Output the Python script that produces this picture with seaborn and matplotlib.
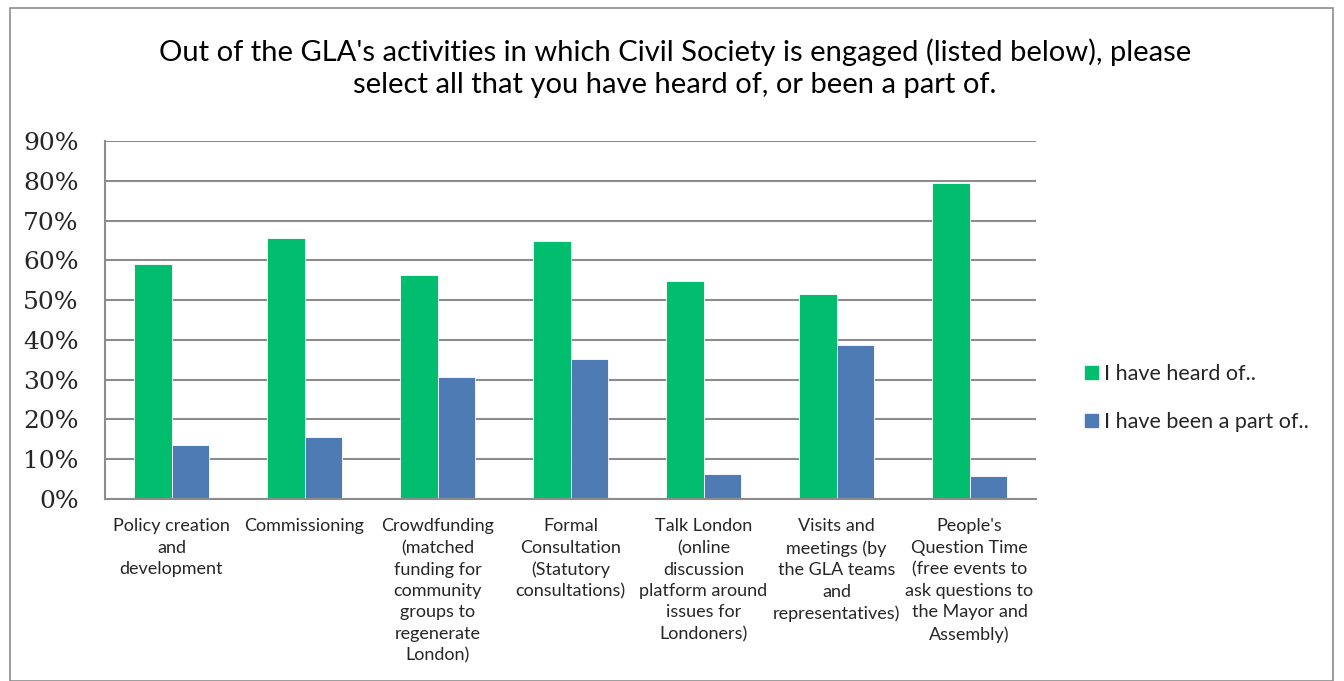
import matplotlib
matplotlib.use("Agg")
import matplotlib.pyplot as plt
import seaborn as sns
import pandas as pd
from matplotlib.patches import Rectangle
from matplotlib.ticker import FuncFormatter, FixedLocator

categories = [
    "Policy creation\nand\ndevelopment",
    "Commissioning",
    "Crowdfunding\n(matched\nfunding for\ncommunity\ngroups to\nregenerate\nLondon)",
    "Formal\nConsultation\n(Statutory\nconsultations)",
    "Talk London\n(online\ndiscussion\nplatform around\nissues for\nLondoners)",
    "Visits and\nmeetings (by\nthe GLA teams\nand\nrepresentatives)",
    "People's\nQuestion Time\n(free events to\nask questions to\nthe Mayor and\nAssembly)",
]
series_names = ["I have heard of..", "I have been a part of.."]
heard = [59.0, 65.7, 56.4, 64.9, 54.8, 51.6, 79.4]
part = [13.6, 15.6, 30.7, 35.1, 6.3, 38.7, 5.9]
colors = ["#00BE6E", "#4F7BB5"]
title = "Out of the GLA's activities in which Civil Society is engaged (listed below), please\nselect all that you have heard of, or been a part of."

df = pd.DataFrame({
    "category": categories * 2,
    "series": [series_names[0]] * len(categories) + [series_names[1]] * len(categories),
    "value": heard + part,
})

sns.set_theme(style="white")
plt.rcParams["font.family"] = ["Lato", "DejaVu Sans"]

fig = plt.figure(figsize=(13.44, 6.81), dpi=100)
ax = fig.add_axes([105 / 1344, 1 - 499 / 681, (1036 - 105) / 1344, (499 - 141) / 681])

sns.barplot(data=df, x="category", y="value", hue="series", palette=colors,
            width=0.57, gap=0, ax=ax, legend=False, saturation=1,
            edgecolor="white", linewidth=0.6)

ax.set_ylim(0, 90)
ax.set_xlim(-0.5, len(categories) - 0.5)
ax.set_yticks(range(0, 91, 10))
ax.yaxis.set_major_formatter(FuncFormatter(lambda v, p: f"{int(v)}%"))
for lbl in ax.get_yticklabels():
    lbl.set_fontfamily(["DejaVu Serif"])
    lbl.set_fontsize(18)
ax.yaxis.grid(True, color="#8c8c8c", linewidth=1.5)
ax.set_axisbelow(True)
ax.set_xlabel("")
ax.set_ylabel("")

ax.set_xticks(range(len(categories)))
ax.set_xticklabels(categories, fontsize=13, linespacing=1.42, va="top", ha="center")
ax.tick_params(axis="x", which="major", length=0, pad=14)
ax.xaxis.set_minor_locator(FixedLocator([i - 0.5 for i in range(len(categories) + 1)]))
ax.tick_params(axis="x", which="minor", length=7, width=1.5, color="#8c8c8c", direction="out")
ax.tick_params(axis="y", length=7, width=1.5, color="#8c8c8c", direction="out", pad=12)

for s in ["top", "right"]:
    ax.spines[s].set_visible(False)
for s in ["left", "bottom"]:
    ax.spines[s].set_color("#8c8c8c")
    ax.spines[s].set_linewidth(1.5)

fig.text(675 / 1344, 1 - 68 / 681, title, ha="center", va="center", fontsize=21,
         linespacing=1.3, color="black")

handles = [Rectangle((0, 0), 1, 1, color=c) for c in colors]
fig.legend(handles, series_names, loc="center left", bbox_to_anchor=(1066 / 1344, 1 - 398 / 681),
           frameon=False, fontsize=15.5, handlelength=0.6, handleheight=0.6,
           handletextpad=0.25, labelspacing=1.3)

# outer border
fig.add_artist(Rectangle((10 / 1344, 0), (1333 - 10) / 1344, 1 - 8 / 681,
                         transform=fig.transFigure, fill=False, edgecolor="#8c8c8c", linewidth=1.2))

fig.savefig("out.png", dpi=100)
